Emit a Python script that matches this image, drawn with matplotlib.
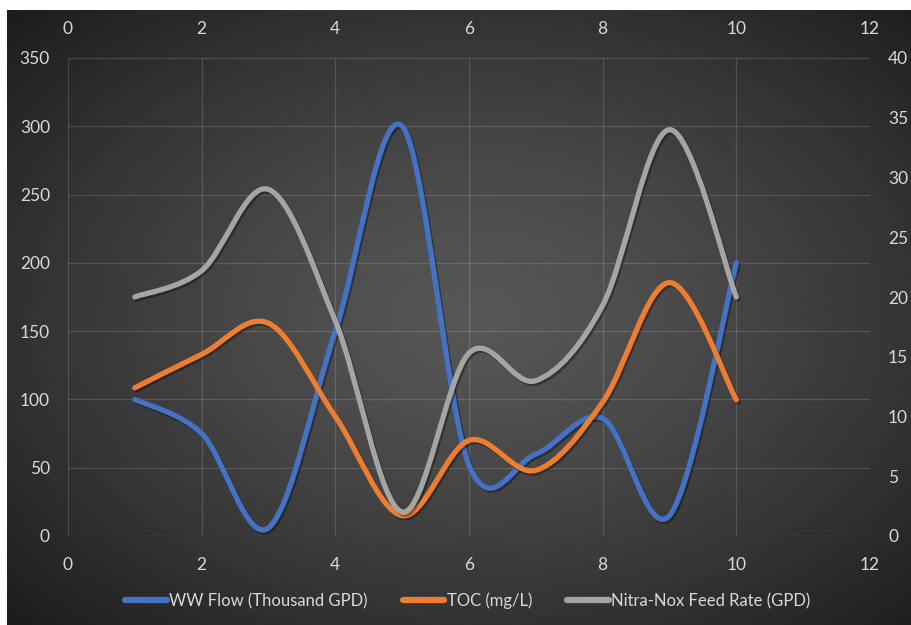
import numpy as np
import matplotlib.pyplot as plt
from matplotlib.path import Path
from matplotlib.patches import PathPatch
from matplotlib.lines import Line2D
import matplotlib.patheffects as pe

plt.rcParams['font.family'] = ['Lato', 'DejaVu Sans']

# data
x = [1, 2, 3, 4, 5, 6, 7, 8, 9, 10]
ww_flow = [100, 75, 6, 150, 300, 52, 60, 86, 15, 200]          # left axis
toc = [12.4, 15.2, 17.8, 10, 1.7, 8, 5.5, 11.2, 21.2, 11.4]      # right axis
nitra_nox = [20, 22.2, 29, 18, 2, 15.3, 13, 19.3, 34, 20]        # right axis

labels = ['WW Flow (Thousand GPD)', 'TOC (mg/L)', 'Nitra-Nox Feed Rate (GPD)']
colors = ['#4472C4', '#ED7D31', '#A5A5A5']
left_ticks = [0, 50, 100, 150, 200, 250, 300, 350]
right_ticks = [0, 5, 10, 15, 20, 25, 30, 35, 40]
x_ticks = [0, 2, 4, 6, 8, 10, 12]


def smooth_path(xs, ys):
    # excel-like smoothed line: bezier segments through every point
    pts = np.column_stack([xs, ys]).astype(float)
    n = len(pts)
    verts = [pts[0]]
    codes = [Path.MOVETO]
    for i in range(n - 1):
        p0 = pts[max(i - 1, 0)]
        p1 = pts[i]
        p2 = pts[i + 1]
        p3 = pts[min(i + 2, n - 1)]
        verts += [p1 + (p2 - p0) / 6, p2 - (p3 - p1) / 6, p2]
        codes += [Path.CURVE4] * 3
    return Path(verts, codes)


fig = plt.figure(figsize=(9.12, 6.25), dpi=100, facecolor='white')

# dark radial background
bg = fig.add_axes([7 / 912, 0, 905 / 912, 615 / 625])
h, w = 300, 450
u, v = np.meshgrid(np.linspace(0, 1, w), np.linspace(0, 1, h))
d = np.sqrt(((u - 0.52) / 0.72) ** 2 + ((v - 0.5) / 0.72) ** 2)
grad = 0.34 - (0.34 - 0.11) * np.clip(d, 0, 1) ** 1.3
bg.imshow(grad, cmap='gray', vmin=0, vmax=1, extent=[0, 1, 0, 1], aspect='auto')
bg.axis('off')

ax = fig.add_axes([68 / 912, 1 - 536 / 625, 802 / 912, 478 / 625])
ax.set_facecolor('none')
ax2 = ax.twinx()

shadow = [pe.SimpleLineShadow(offset=(1.2, -1.5), shadow_color='black', alpha=0.35), pe.Normal()]
series = [(ax, ww_flow), (ax2, toc), (ax2, nitra_nox)]
for (a, ys), c in zip(series, colors):
    patch = PathPatch(smooth_path(x, ys), fill=False, edgecolor=c, lw=3.8,
                      capstyle='round', joinstyle='round')
    patch.set_path_effects(shadow)
    a.add_patch(patch)

ax.set_xlim(0, 12)
ax.set_ylim(0, 350)
ax2.set_ylim(0, 40)
ax.set_xticks(x_ticks)
ax.set_yticks(left_ticks)
ax2.set_yticks(right_ticks)

ax.grid(True, color='white', alpha=0.14, lw=0.9)
ax.set_axisbelow(True)
for a in (ax, ax2):
    for s in a.spines.values():
        s.set_visible(False)

tick_c = '#d9d9d9'
ax.tick_params(axis='both', length=0, labelsize=12.5, labelcolor=tick_c,
               labeltop=True, top=False)
ax.tick_params(axis='x', pad=15)
ax.tick_params(axis='y', pad=13)
ax2.tick_params(axis='y', length=0, labelsize=12.5, labelcolor=tick_c, pad=13)
ax.set_zorder(1)
ax2.set_zorder(2)

handles = [Line2D([], [], color=c, lw=4.5, solid_capstyle='round') for c in colors]
fig.legend(handles, labels, loc='center', bbox_to_anchor=(0.513, 1 - 601 / 625),
           ncol=3, frameon=False, fontsize=12, labelcolor=tick_c,
           handlelength=2.5, handletextpad=0.15, columnspacing=2.1)

fig.savefig('out.png', dpi=100, facecolor='white')
